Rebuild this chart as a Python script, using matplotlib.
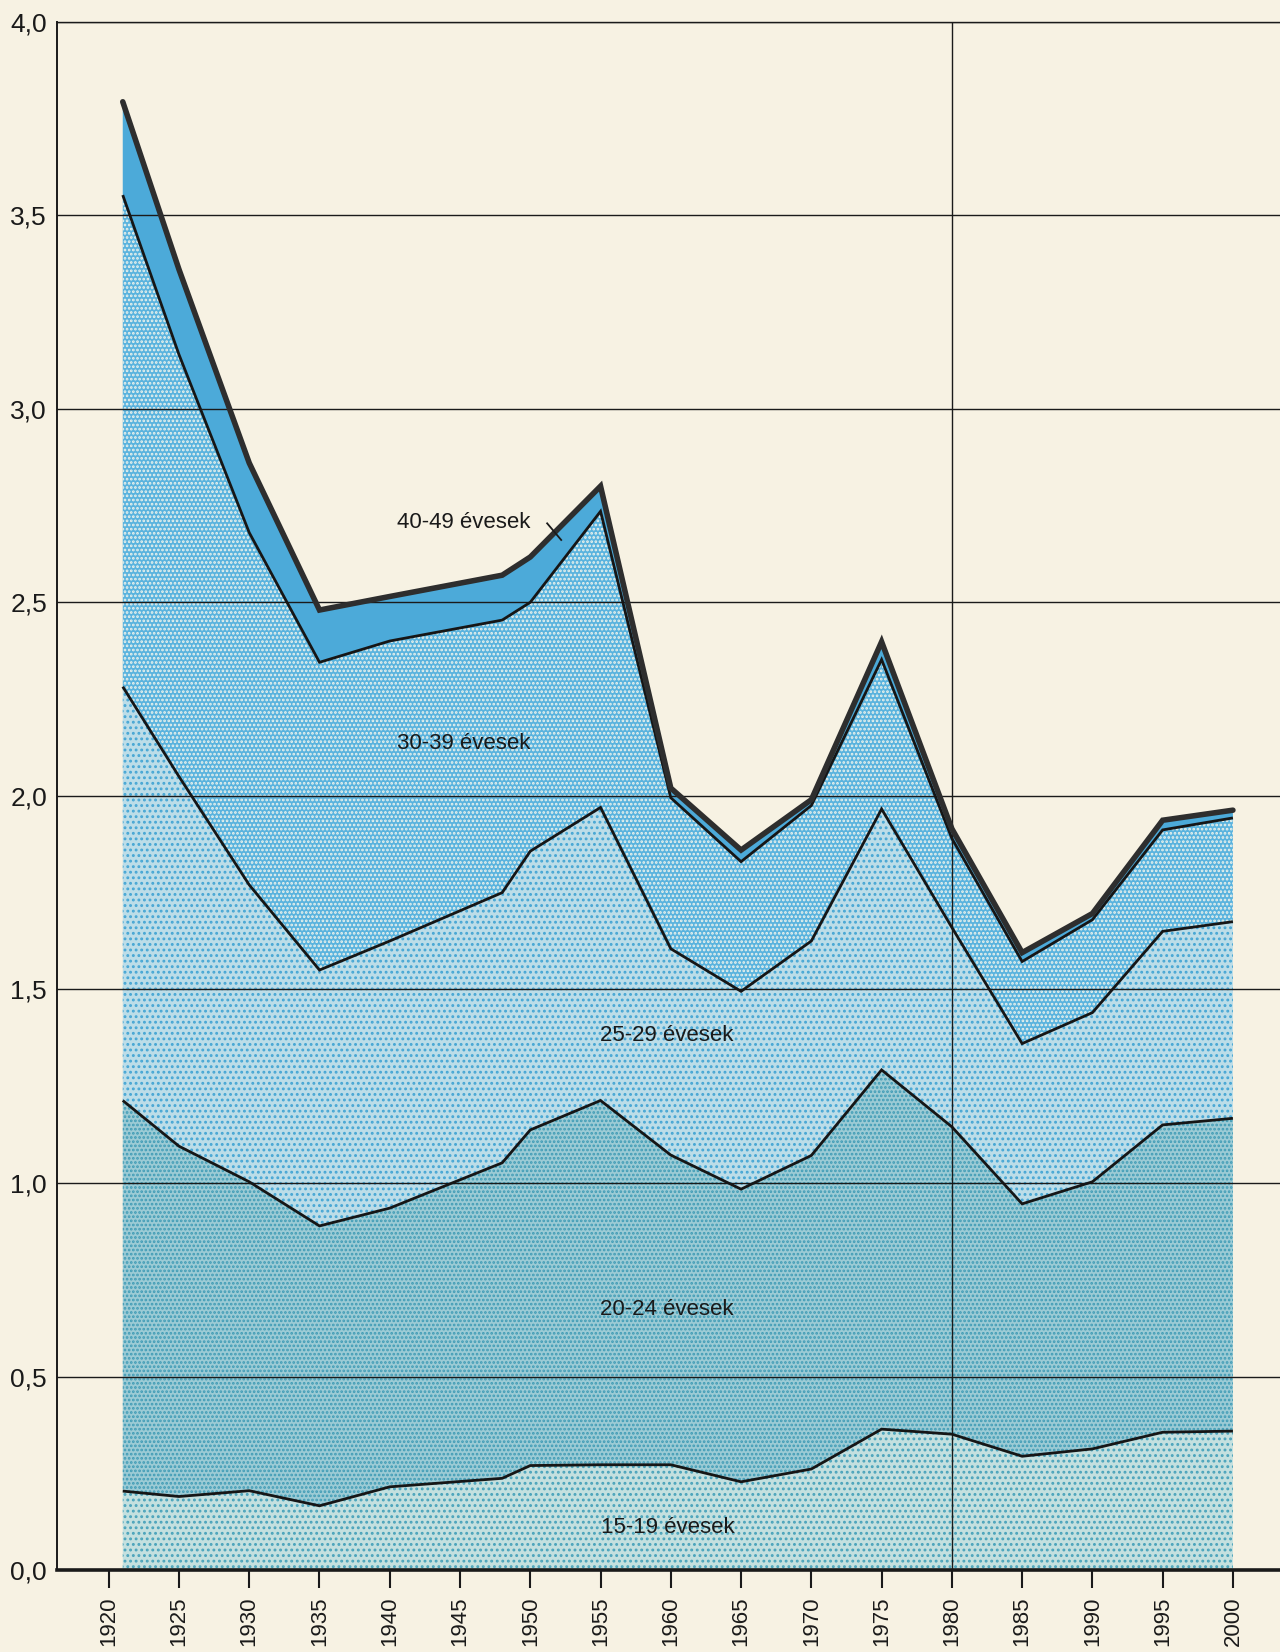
import numpy as np
import matplotlib
matplotlib.use("Agg")
import matplotlib.pyplot as plt

plt.rcParams['font.family'] = ['Liberation Sans', 'DejaVu Sans']
plt.rcParams['hatch.linewidth'] = 1.3

# ---- data ----
years = [1921, 1925, 1930, 1935, 1940, 1948, 1950, 1955, 1960, 1965,
         1970, 1975, 1980, 1985, 1990, 1995, 2000]
age_15_19 = [0.204, 0.190, 0.205, 0.166, 0.215, 0.237, 0.270, 0.272, 0.272, 0.228,
             0.261, 0.364, 0.351, 0.294, 0.313, 0.356, 0.359]
age_20_24 = [1.009, 0.905, 0.798, 0.723, 0.720, 0.815, 0.867, 0.941, 0.800, 0.756,
             0.810, 0.928, 0.794, 0.652, 0.690, 0.794, 0.808]
age_25_29 = [1.069, 0.955, 0.767, 0.661, 0.690, 0.698, 0.720, 0.757, 0.533, 0.511,
             0.554, 0.674, 0.515, 0.414, 0.437, 0.500, 0.508]
age_30_39 = [1.270, 1.090, 0.910, 0.795, 0.775, 0.704, 0.643, 0.765, 0.390, 0.335,
             0.350, 0.386, 0.230, 0.212, 0.240, 0.262, 0.268]
age_40_49 = [0.241, 0.220, 0.180, 0.135, 0.115, 0.116, 0.117, 0.065, 0.025, 0.030,
             0.015, 0.046, 0.025, 0.023, 0.016, 0.025, 0.020]

group_labels = ['15-19 évesek', '20-24 évesek', '25-29 évesek', '30-39 évesek', '40-49 évesek']
xtick_years = list(range(1920, 2001, 5))
ytick_vals = [0.0, 0.5, 1.0, 1.5, 2.0, 2.5, 3.0, 3.5, 4.0]
ytick_labels = ['0,0', '0,5', '1,0', '1,5', '2,0', '2,5', '3,0', '3,5', '4,0']

# ---- style ----
bg = '#f7f2e3'
face_colors = ['#c4e0df', '#9ccbd5', '#bcdde8', '#5ab3de', '#4caad9']
hatch_colors = ['#4aa3bb', '#3f9bb5', '#46a6d4', '#eef3ec', '#4caad9']
hatches = ['...', '....', '...', '....', None]

fig = plt.figure(figsize=(12.8, 16.52), dpi=100)
fig.patch.set_facecolor(bg)
ax = fig.add_axes([0.0443, 0.0496, 1 - 0.0443, 0.9373])
ax.set_facecolor(bg)

groups = [age_15_19, age_20_24, age_25_29, age_30_39, age_40_49]
polys = ax.stackplot(years, groups, colors=face_colors, linewidth=0, zorder=1)
for p, h, hc in zip(polys, hatches, hatch_colors):
    if h:
        p.set_hatch(h)
        p.set_edgecolor(hc)
        p.set_linewidth(0)

cum = np.cumsum(np.array(groups), axis=0)
for i in range(len(groups)):
    if i == len(groups) - 1:
        ax.plot(years, cum[i], color='#2e2e2e', lw=4.0, zorder=5,
                solid_joinstyle='miter', solid_capstyle='round')
    else:
        ax.plot(years, cum[i], color='#161616', lw=2.0, zorder=5,
                solid_joinstyle='miter', solid_capstyle='butt')

# grid lines on top of the fills
for v in ytick_vals[1:]:
    ax.axhline(v, color='#1a1a1a', lw=1.0, zorder=4)
ax.axvline(1980, color='#1a1a1a', lw=1.0, zorder=4)

ax.set_xlim(1916.3, 2003.35)
ax.set_ylim(0, 4.0)
ax.set_xticks(xtick_years)
ax.set_xticklabels([str(y) for y in xtick_years], rotation=90)
ax.set_yticks(ytick_vals)
ax.set_yticklabels(ytick_labels)
ax.tick_params(axis='x', direction='out', length=13, width=1.5, pad=6,
               labelsize=16, colors='#1a1a1a')
ax.tick_params(axis='y', length=0, pad=7, labelsize=19, colors='#1a1a1a')

ax.spines['right'].set_visible(False)
ax.spines['top'].set_linewidth(1.0)
ax.spines['left'].set_linewidth(1.4)
ax.spines['bottom'].set_linewidth(2.6)
for s in ax.spines.values():
    s.set_color('#1a1a1a')
    s.set_zorder(6)

# in-chart labels
txt = dict(fontsize=16, color='#1a1a1a', zorder=7)
ax.text(1940.5, 2.707, group_labels[4], ha='left', va='center', **txt)
ax.plot([1951.2, 1952.2], [2.704, 2.661], color='#1a1a1a', lw=1.3, zorder=7)
ax.text(1940.5, 2.136, group_labels[3], ha='left', va='center', **txt)
ax.text(1959.7, 1.380, group_labels[2], ha='center', va='center', **txt)
ax.text(1959.7, 0.673, group_labels[1], ha='center', va='center', **txt)
ax.text(1959.8, 0.110, group_labels[0], ha='center', va='center', **txt)

fig.savefig('out.png', dpi=100, facecolor=bg)
